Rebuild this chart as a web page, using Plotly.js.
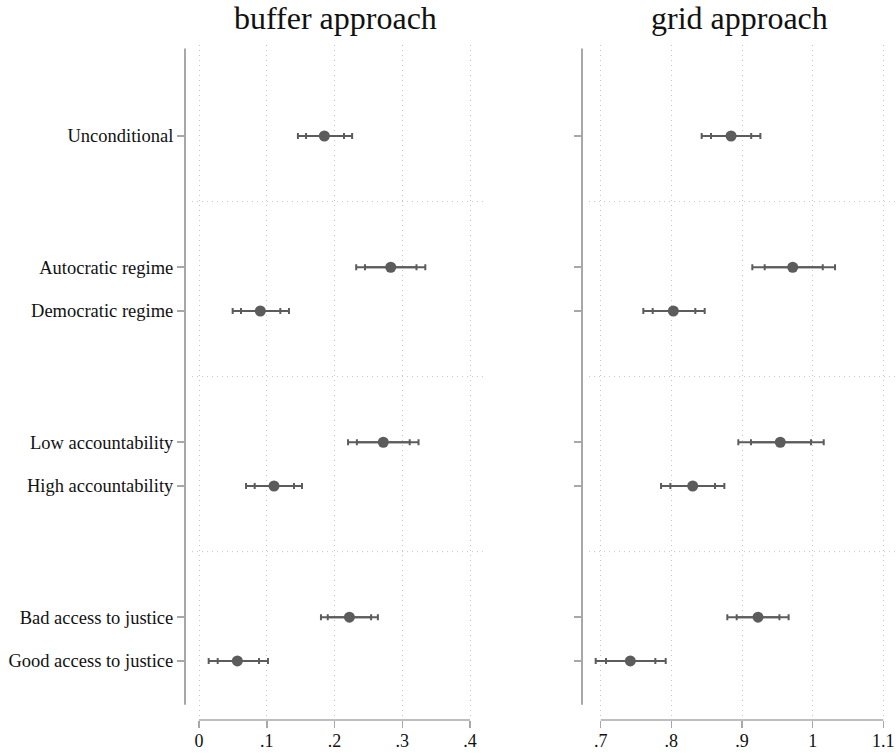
<!DOCTYPE html>
<html>
<head>
<meta charset="utf-8">
<script src="https://cdn.plot.ly/plotly-3.0.1.min.js"></script>
<style>html,body{margin:0;padding:0;background:#fff;}#chart{width:896px;height:753px;}</style>
</head>
<body>
<div id="chart"></div>
<script>
const categories = ['Unconditional','Autocratic regime','Democratic regime','Low accountability','High accountability','Bad access to justice','Good access to justice'];
const groupOf = [0,1,1,2,2,3,3];
const panelTitles = ['buffer approach','grid approach'];

const bufferEst  = [0.185, 0.283, 0.0905, 0.272, 0.1107, 0.222, 0.0566];
const bufferLo95 = [0.146, 0.232, 0.0497, 0.220, 0.0694, 0.180, 0.0143];
const bufferHi95 = [0.226, 0.334, 0.1328, 0.324, 0.152, 0.264, 0.1018];
const bufferLo90 = [0.158, 0.245, 0.062, 0.233, 0.0822, 0.190, 0.0276];
const bufferHi90 = [0.214, 0.321, 0.120, 0.311, 0.1402, 0.254, 0.0886];

const gridEst  = [0.8845, 0.9718, 0.8028, 0.9542, 0.8302, 0.9227, 0.7419];
const gridLo95 = [0.8429, 0.9146, 0.7603, 0.8948, 0.7854, 0.8792, 0.6929];
const gridHi95 = [0.926, 1.0317, 0.8472, 1.0157, 0.875, 0.966, 0.792];
const gridLo90 = [0.8561, 0.9321, 0.7736, 0.9127, 0.7986, 0.8925, 0.7075];
const gridHi90 = [0.913, 1.0143, 0.8339, 0.9977, 0.8618, 0.953, 0.7773];

const bufferTicks = [0, 0.1, 0.2, 0.3, 0.4];
const bufferTickText = ['0', '.1', '.2', '.3', '.4'];
const gridTicks = [0.7, 0.8, 0.9, 1.0, 1.1];
const gridTickText = ['.7', '.8', '.9', '1', '1.1'];

// positions derived from group structure
const n = categories.length;
const nGroups = Math.max(...groupOf) + 1;
const yPos = categories.map((c, i) => (n - 1 - i) + 2 * (nGroups - 1 - groupOf[i]));
const seps = [];
for (let g = 0; g < nGroups - 1; g++) {
  const upper = yPos.filter((p, i) => groupOf[i] === g);
  const lower = yPos.filter((p, i) => groupOf[i] === g + 1);
  seps.push((Math.min(...upper) + Math.max(...lower)) / 2);
}

const FONT = 'Liberation Serif, Times New Roman, serif';
const DARK = '#5c5c5c';
const AXC = '#a8a8a8';

function ciTraces(est, lo, hi, lo2, hi2, xa, ya) {
  const common = {type: 'scatter', mode: 'markers', y: yPos, xaxis: xa, yaxis: ya, hoverinfo: 'skip', showlegend: false};
  return [
    Object.assign({}, common, {
      x: est, marker: {size: 1, color: 'rgba(0,0,0,0)'},
      error_x: {type: 'data', symmetric: false, array: est.map((v, i) => hi[i] - v), arrayminus: est.map((v, i) => v - lo[i]), color: DARK, thickness: 2, width: 3}
    }),
    Object.assign({}, common, {
      x: est, marker: {size: 11, color: DARK},
      error_x: {type: 'data', symmetric: false, array: est.map((v, i) => hi2[i] - v), arrayminus: est.map((v, i) => v - lo2[i]), color: DARK, thickness: 2, width: 3}
    })
  ];
}

const data = [].concat(
  ciTraces(bufferEst, bufferLo95, bufferHi95, bufferLo90, bufferHi90, 'x', 'y'),
  ciTraces(gridEst, gridLo95, gridHi95, gridLo90, gridHi90, 'x2', 'y2')
);

const W = 896, H = 753;
const dom1 = [185 / W, 485 / W];
const dom2 = [582 / W, 1];
const yRange = [-1.349, 14.08];

const xCommon = {
  showline: false, zeroline: false, showgrid: true, gridcolor: '#c4c4c4', gridwidth: 1, griddash: '1px,4px',
  ticks: 'outside', ticklen: 7, tickwidth: 1.5, tickcolor: AXC, ticklabelstandoff: -3,
  tickfont: {family: FONT, size: 18, color: '#111'}, fixedrange: true
};
const yCommon = {
  range: yRange, showline: false, zeroline: false, showgrid: false,
  ticks: 'outside', ticklen: 7, tickwidth: 1.5, tickcolor: AXC,
  tickvals: yPos, ticktext: categories,
  tickfont: {family: FONT, size: 18.5, color: '#111'}, fixedrange: true
};

const shapes = [];
// x-axis lines spanning tick range
shapes.push({type: 'line', xref: 'x', yref: 'paper', x0: bufferTicks[0], x1: bufferTicks[bufferTicks.length - 1], y0: 0, y1: 0, line: {color: AXC, width: 1.5}});
shapes.push({type: 'line', xref: 'x2', yref: 'paper', x0: gridTicks[0], x1: gridTicks[gridTicks.length - 1], y0: 0, y1: 0, line: {color: AXC, width: 1.5}});
// y-axis lines
shapes.push({type: 'line', xref: 'paper', yref: 'y', x0: dom1[0], x1: dom1[0], y0: -1, y1: 14, line: {color: AXC, width: 2}});
shapes.push({type: 'line', xref: 'paper', yref: 'y2', x0: dom2[0], x1: dom2[0], y0: -1, y1: 14, line: {color: AXC, width: 2}});
// separators
seps.forEach(s => {
  shapes.push({type: 'line', xref: 'paper', yref: 'y', x0: dom1[0] + 7 / W, x1: dom1[1] - 2 / W, y0: s, y1: s, line: {color: '#c4c4c4', width: 1, dash: '1px,4px'}});
  shapes.push({type: 'line', xref: 'paper', yref: 'y2', x0: dom2[0] + 7 / W, x1: dom2[1], y0: s, y1: s, line: {color: '#c4c4c4', width: 1, dash: '1px,4px'}});
});

const layout = {
  width: W, height: H,
  margin: {l: 0, r: 0, t: 45, b: 33, pad: 0},
  paper_bgcolor: '#fff', plot_bgcolor: '#fff',
  showlegend: false,
  xaxis: Object.assign({}, xCommon, {domain: dom1, anchor: 'y', range: [-0.02066, 0.4221], tickvals: bufferTicks, ticktext: bufferTickText}),
  xaxis2: Object.assign({}, xCommon, {domain: dom2, anchor: 'y2', range: [0.6735, 1.118], tickvals: gridTicks, ticktext: gridTickText}),
  yaxis: Object.assign({}, yCommon, {anchor: 'x', domain: [0, 1]}),
  yaxis2: Object.assign({}, yCommon, {anchor: 'x2', domain: [0, 1], showticklabels: false}),
  shapes: shapes,
  annotations: [
    {xref: 'paper', yref: 'paper', x: (dom1[0] + dom1[1]) / 2, y: 1 + 27 / 675, xanchor: 'center', yanchor: 'middle', text: panelTitles[0], showarrow: false, font: {family: FONT, size: 32, color: '#111'}},
    {xref: 'paper', yref: 'paper', x: (dom2[0] + dom2[1]) / 2, y: 1 + 27 / 675, xanchor: 'center', yanchor: 'middle', text: panelTitles[1], showarrow: false, font: {family: FONT, size: 32, color: '#111'}}
  ]
};

Plotly.newPlot('chart', data, layout, {displayModeBar: false, staticPlot: true});
</script>
</body>
</html>
